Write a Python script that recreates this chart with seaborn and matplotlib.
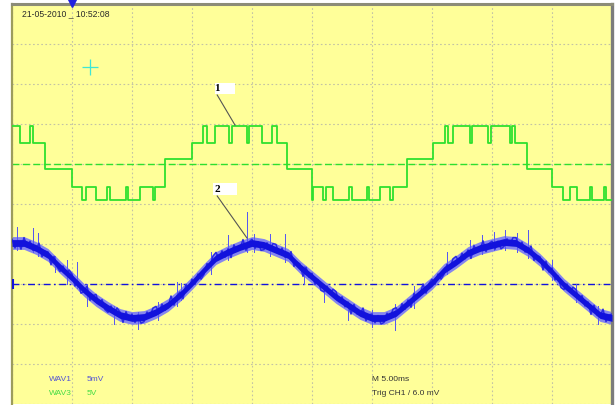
import numpy as np
import pandas as pd
import matplotlib
matplotlib.use("Agg")
import matplotlib.pyplot as plt
from matplotlib.patches import Rectangle
import seaborn as sns

# Canal 3 (verde): instantes de comutacao (ms) e nivel a partir deles (div)
T, U, ZP, ZN, L1, L2 = 1.96, 1.53, 1.12, 0.88, 0.43, 0.10
verde_t = [0, 0.67, 1.5, 1.75, 2.75, 5.0, 5.83, 6.17, 7.0, 7.92, 8.17, 9.5, 9.67,
           10.67, 11.75, 11.92, 12.75, 15.0, 15.92, 16.25, 16.92, 18.08, 18.33,
           19.58, 19.75, 20.83, 21.67, 22.08, 22.92, 25.0, 25.08, 25.92, 26.17,
           26.75, 28.08, 28.33, 29.58, 29.75, 30.67, 31.5, 31.75, 32.92, 35.08,
           36.08, 36.33, 36.75, 38.17, 38.33, 39.67, 39.92, 41.5, 41.67, 41.92,
           42.92, 45.0, 45.92, 46.5, 47.08, 48.17, 48.33, 49.33, 49.5, 50]
verde_v = [T, U, T, U, ZN, L1, L2, L1, L2, L1, L2, L1, L2,
           L1, L2, L1, ZP, U, T, U, T, U, T,
           U, T, U, T, U, ZN, L2, L1, L2, L1,
           L2, L1, L2, L1, L2, L1, L2, L1, ZP, U,
           T, U, T, U, T, U, T, U, T, U,
           ZN, L1, L2, L1, L2, L1, L2, L1, L2, L2]

# Canal 1 (azul): centro do traco a cada 1 ms (div)
azul_t = list(range(51))
azul_v = [-0.975, -0.975, -1.10, -1.275, -1.575, -1.85, -2.15, -2.40, -2.60, -2.775,
          -2.85, -2.825, -2.70, -2.525, -2.275, -1.975, -1.65, -1.35, -1.20, -1.075,
          -0.975, -1.025, -1.15, -1.275, -1.575, -1.825, -2.075, -2.325, -2.525, -2.725,
          -2.85, -2.85, -2.725, -2.475, -2.225, -1.975, -1.65, -1.45, -1.225, -1.10,
          -1.025, -0.95, -0.975, -1.15, -1.40, -1.70, -2.025, -2.275, -2.525, -2.775,
          -2.85]

# Canal 1 com o ruido, amostrado a cada 0.25 ms (div)
ruido_v = [
    -0.88, -1.10, -0.92, -1.13, -0.84, -1.07, -0.93, -1.16, -1.14, -0.98, -1.32, -1.18,
    -1.20, -1.52, -1.31, -1.57, -1.69, -1.55, -1.76, -1.65, -1.75, -2.05, -1.94, -2.23,
    -2.19, -2.05, -2.41, -2.29, -2.26, -2.51, -2.39, -2.64, -2.71, -2.55, -2.74, -2.60,
    -2.70, -2.96, -2.69, -2.90, -2.75, -2.96, -2.78, -2.98, -2.94, -2.70, -2.81, -2.60,
    -2.56, -2.72, -2.50, -2.66, -2.57, -2.30, -2.53, -2.29, -2.20, -2.37, -2.01, -2.12,
    -1.88, -2.01, -1.75, -1.88, -1.76, -1.49, -1.55, -1.30, -1.21, -1.37, -1.17, -1.33,
    -1.12, -1.34, -1.02, -1.18, -1.12, -0.89, -1.16, -0.95, -0.88, -1.11, -0.94, -1.16,
    -1.14, -0.97, -1.14, -0.99, -1.01, -1.24, -1.10, -1.33, -1.32, -1.19, -1.56, -1.45,
    -1.50, -1.81, -1.58, -1.83, -1.73, -2.01, -1.89, -2.16, -2.19, -2.05, -2.25, -2.13,
    -2.19, -2.44, -2.32, -2.57, -2.45, -2.75, -2.51, -2.75, -2.77, -2.60, -2.92, -2.77,
    -2.75, -2.97, -2.79, -3.00, -2.96, -2.73, -2.84, -2.63, -2.59, -2.72, -2.49, -2.63,
    -2.40, -2.58, -2.23, -2.36, -2.27, -2.00, -2.23, -1.99, -1.88, -2.01, -1.75, -1.88,
    -1.76, -1.51, -1.60, -1.37, -1.31, -1.45, -1.23, -1.37, -1.15, -1.36, -1.04, -1.20,
    -1.14, -0.92, -1.19, -0.99, -0.93, -1.13, -0.93, -1.12, -1.06, -0.87, -1.01, -0.84,
    -0.84, -1.08, -0.95, -1.20, -1.19, -1.05, -1.41, -1.29, -1.32, -1.65, -1.43, -1.70,
    -1.60, -1.90, -1.80, -2.09, -2.14, -2.00, -2.20, -2.08, -2.14, -2.40, -2.29, -2.55,
    -2.45, -2.76, -2.53, -2.78, -2.82, -2.63, -2.94, -2.78, -2.75]
ruido_t = [k * 0.25 for k in range(len(ruido_v))]

# picos de ruido maiores do canal 1
pico_t = [0.42, 1.75, 2.17, 3.6, 4.6, 5.42, 6.25, 8.5, 10.5, 12.2, 13.75, 14.1,
          16.6, 18.0, 19.55, 20.2, 21.5, 22.75, 24.3, 26.0, 28.0, 30.0, 31.9,
          33.5, 36.25, 38.2, 39.2, 40.2, 41.1, 42.1, 43.0, 45.0, 47.0, 48.8]
pico_min = [-1.15, -1.2, -1.3, -1.7, -2.0, -2.1, -2.55, -3.0, -3.12, -2.9, -2.55, -2.4,
            -1.75, -1.4, -1.2, -1.2, -1.3, -1.45, -2.0, -2.45, -2.9, -3.08, -3.15,
            -2.6, -1.75, -1.35, -1.25, -1.15, -1.15, -1.2, -1.35, -1.9, -2.45, -3.0]
pico_max = [-0.58, -0.6, -0.72, -1.3, -1.4, -1.45, -2.0, -2.55, -2.7, -2.45, -1.95, -1.98,
            -1.2, -0.78, -0.2, -0.75, -0.75, -0.75, -1.55, -2.0, -2.45, -2.65, -2.5,
            -2.05, -1.2, -0.9, -0.78, -0.7, -0.65, -0.72, -0.65, -1.4, -2.0, -2.55]

verde = pd.DataFrame({'t': verde_t, 'v': verde_v})
azul = pd.DataFrame({'t': azul_t, 'v': azul_v})
ruido = pd.DataFrame({'t': ruido_t, 'v': ruido_v})
azul_c = np.array(azul_v)

VERDE = '#2ee02e'
AZUL = '#1212dc'

fig = plt.figure(figsize=(6.15, 4.05), dpi=100, facecolor='white')
ax = fig.add_axes([12 / 615, 1 / 405, 600 / 615, 400 / 405])
ax.set_facecolor('#ffff99')
ax.set_xlim(0, 50)
ax.set_ylim(-5, 5)
ax.set_xticks(np.arange(0, 51, 5))
ax.set_yticks(np.arange(-5, 6, 1))
ax.tick_params(length=0, labelbottom=False, labelleft=False)
ax.grid(True, color='#c2c2a6', linestyle=(0, (1.5, 2.2)), lw=0.8, zorder=0)
ax.set_axisbelow(True)
ax.spines['bottom'].set_visible(False)
ax.spines['left'].set_color('#9c9c5c')
ax.spines['left'].set_linewidth(1.6)
ax.spines['top'].set_color('#8c8c78')
ax.spines['top'].set_linewidth(2.2)
ax.spines['right'].set_color('#7c7c7c')
ax.spines['right'].set_linewidth(2.4)

# linhas de referencia
ax.axhline(1.0, color=VERDE, lw=1.0, ls=(0, (5, 2.5)), zorder=1)
ax.axhline(-2.0, color=AZUL, lw=1.0, ls=(0, (5, 2.5, 1.2, 2.5)), zorder=1)

# canal 3
sns.lineplot(data=verde, x='t', y='v', drawstyle='steps-post', estimator=None,
             sort=False, color=VERDE, lw=1.3, ax=ax, zorder=3)

# canal 1: franja clara + traco ruidoso + nucleo escuro + picos
ax.fill_between(azul['t'], azul_c - 0.16, azul_c + 0.16, color='#8686ee', lw=0, zorder=2)
ax.vlines(pico_t, pico_min, pico_max, color='#5858f2', lw=0.7, antialiased=False, zorder=3)
sns.lineplot(data=ruido, x='t', y='v', estimator=None, sort=False, color='#2a2ae4',
             lw=1.1, ax=ax, zorder=3)
ax.fill_between(azul['t'], azul_c - 0.085, azul_c + 0.085, color=AZUL, lw=0, zorder=4)
ax.set_xlabel('')
ax.set_ylabel('')

# marcadores do osciloscopio
ax.plot([5.0], [5.03], marker='v', ms=6, color='#2020e0', clip_on=False, zorder=6)
ax.plot([6.5], [3.425], marker='+', ms=11, mew=0.9, color='#3ee6d6', zorder=6)
ax.vlines(0.1, -2.13, -1.87, color=AZUL, lw=1.5, zorder=6)

# etiquetas 1 e 2
serif = dict(family=['Liberation Serif', 'DejaVu Serif'], fontsize=8, fontweight='bold')
ax.add_patch(Rectangle((16.92, 2.75), 1.66, 0.275, facecolor='white', lw=0, zorder=6))
ax.text(17.1, 2.89, '1', ha='center', va='center', zorder=7, **serif)
ax.plot([17.1, 18.58], [2.725, 1.975], color='#555555', lw=0.8, zorder=6)
ax.add_patch(Rectangle((16.75, 0.225), 2.0, 0.3, facecolor='white', lw=0, zorder=6))
ax.text(17.1, 0.375, '2', ha='center', va='center', zorder=7, **serif)
ax.plot([17.1, 19.58], [0.2, -0.85], color='#555555', lw=0.8, zorder=6)

# textos
fonte = ['Liberation Sans', 'DejaVu Sans']
ax.text(0.83, 4.75, '21-05-2010 _ 10:52:08', ha='left', va='center', fontsize=6.2,
        color='#2a2a2a', family=fonte)
ax.text(3.08, -4.38, 'WAV1', ha='left', va='center', fontsize=6, color='#5454d4', family=fonte)
ax.text(6.25, -4.38, '5mV', ha='left', va='center', fontsize=6, color='#5454d4', family=fonte)
ax.text(3.08, -4.73, 'WAV3', ha='left', va='center', fontsize=6, color='#44dd44', family=fonte)
ax.text(6.25, -4.73, '5V', ha='left', va='center', fontsize=6, color='#44dd44', family=fonte)
ax.text(30.0, -4.38, 'M 5.00ms', ha='left', va='center', fontsize=6, color='#333333', family=fonte)
ax.text(30.0, -4.73, 'Trig CH1 / 6.0 mV', ha='left', va='center', fontsize=6,
        color='#333333', family=fonte)

fig.savefig('out.png', dpi=100)
